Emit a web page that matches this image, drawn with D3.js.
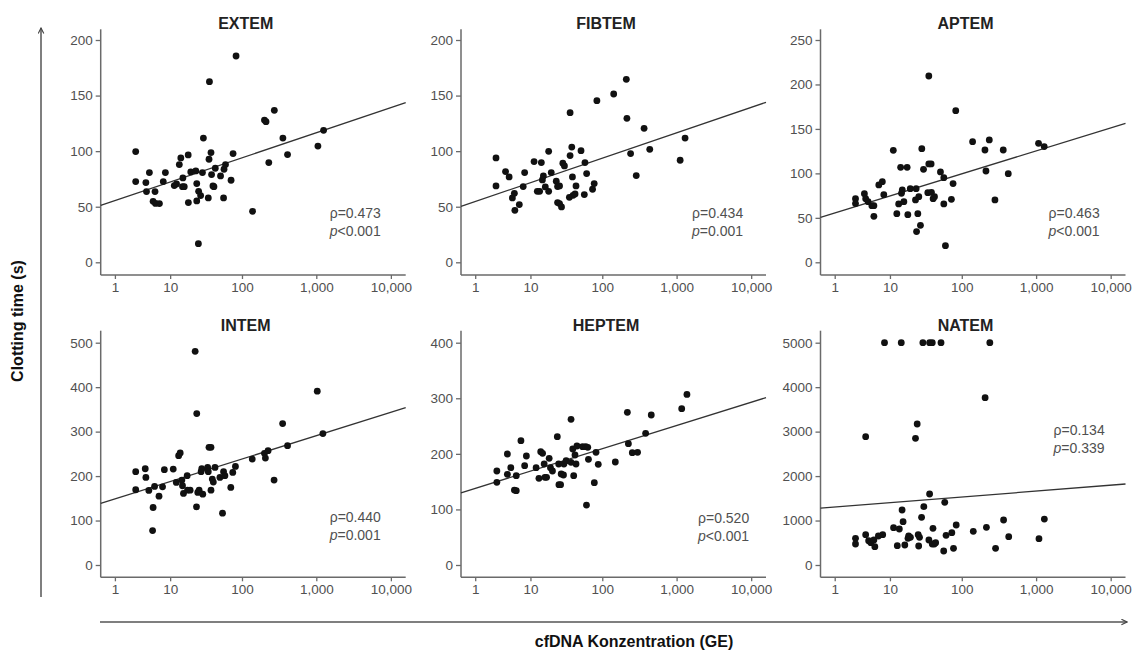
<!DOCTYPE html>
<html>
<head>
<meta charset="utf-8">
<script src="https://cdn.jsdelivr.net/npm/d3@7/dist/d3.min.js"></script>
<style>
	body { margin: 0; background: #fff; }
	svg { display: block; font-family: "Liberation Sans", Arial, sans-serif; }
</style>
</head>
<body>
<svg id="chart" width="1132" height="653"></svg>
<script>
// panels, left to right, top to bottom
const panelNames = ['EXTEM', 'FIBTEM', 'APTEM', 'INTEM', 'HEPTEM', 'NATEM'];
const xTicks = [1, 10, 100, 1000, 10000];
const yTickSets = [
	[0, 50, 100, 150, 200],
	[0, 50, 100, 150, 200],
	[0, 50, 100, 150, 200, 250],
	[0, 100, 200, 300, 400, 500],
	[0, 100, 200, 300, 400],
	[0, 1000, 2000, 3000, 4000, 5000]
];
const rhoValues = ['0.473', '0.434', '0.463', '0.440', '0.520', '0.134'];
const pValues = ['<0.001', '=0.001', '<0.001', '=0.001', '<0.001', '=0.339'];
// fit: clotting time = intercept + slope * log10(cfDNA + 1)
const fitIntercepts = [48.7, 47.8, 47.8, 132.7, 125.2, 1263];
const fitSlopes = [22.6, 22.9, 25.8, 52.7, 41.9, 133];

// [cfDNA (GE), clotting time (s)]
const extemPoints = [
	[2.8,99.6],[2.8,72.6],[4.2,71.7],[4.3,63.6],[4.8,80.7],[5.5,54.9],[5.9,63.6],[6.0,53],[6.9,52.8],
	[7.9,72.6],[8.5,80.7],[11.5,69],[12.4,70.5],[13.6,87.9],[14.3,93.9],[15.1,68],[16,68],[15.3,75.9],
	[18.2,96.6],[18.3,53.7],[19.8,81.3],[23.3,82.2],[24,70.8],[24,55.2],[25.3,16.8],[25.5,63.9],[27.2,60],
	[28.8,80.7],[29.7,111.8],[34.7,57.9],[35.5,92.7],[36,162.5],[37.8,98.7],[38.5,78.9],[40.2,68.7],[41.5,68],
	[43.3,84.6],[51.1,77.7],[56.2,57.9],[57,83.7],[59.7,87.9],[71.1,73.8],[75.7,97.8],[83.1,185.6],[139,45.9],
	[201,128],[211,126.5],[230,89.7],[273,136.7],[356,111.8],[411,96.9],[1051,104.6],[1252,118.7]
];
const fibtemPoints = [
	[2.8,93.9],[2.8,68.7],[4.1,81.6],[4.7,76.8],[5.3,57.9],[5.7,62.1],[5.8,46.8],[6.8,51.9],[7.8,68.1],
	[8.2,80.7],[11.3,90.6],[12.6,63.9],[13.6,63.9],[14.4,89.7],[14.9,74.1],[15.4,77.7],[16.4,67.8],[18.3,99.8],
	[18.3,63.9],[19.9,80.7],[23.4,72.9],[24.4,68.1],[24.4,53.7],[26,68.7],[26,52.8],[27.7,49.8],[28.9,89.1],
	[30.4,86.7],[35.6,58.5],[36.4,134.6],[36.4,96],[38.4,103.7],[39.2,76.8],[40,60.3],[42.6,61.5],[43.9,68.7],
	[51.4,100.4],[57,60.9],[58.2,89.7],[61.3,79.8],[73.8,65.7],[77.7,70.8],[84.5,145.4],[142.6,151.4],[211,164.6],
	[215,129.5],[241,97.8],[287,78],[366,120.5],[436,101.6],[1116,91.8],[1299,111.8]
];
const aptemPoints = [
	[2.8,71.6],[2.8,66],[4.0,77.2],[4.2,71.6],[4.6,68.2],[5.3,63.7],[5.7,63.7],[5.7,51.7],[6.8,87],
	[7.7,90.7],[8.1,76.1],[11.2,125.9],[12.6,54.7],[13.4,65.6],[14.3,106.8],[14.7,77.6],[15.1,81.3],[15.9,68.2],
	[17.7,106.8],[18.1,53.6],[19.6,82.8],[23.7,82.8],[23.2,70.1],[24,34.5],[25,54.7],[25.8,73.8],[27.2,41.6],
	[28.4,127.8],[30,104.6],[34.4,78.3],[35.5,209.5],[35.5,110.6],[38.2,110.6],[38.6,78.7],[40.7,71.6],[42.5,73.8],
	[51.3,101.6],[57,95.2],[57,65.6],[60,18.7],[72.3,70.8],[76.2,88.5],[82.8,170.5],[140,135.7],[205.5,126.3],
	[212,102.7],[235,137.6],[280,70.1],[362,126.3],[423,99.7],[1078,133.8],[1284,130.1]
];
const intemPoints = [
	[2.8,209.8],[2.8,169.2],[4.1,216.5],[4.2,197],[4.7,167.7],[5.5,129.3],[5.4,77.4],[5.8,176.7],[6.8,154.9],
	[7.7,175.9],[8.2,214.3],[11.1,215.8],[12.3,185.7],[13.3,245.9],[14,251.9],[14.8,191],[15.1,178.2],[15.6,160.9],
	[17.6,200.8],[17.8,168.4],[19.4,168.4],[22.8,480.5],[23.8,130.8],[24,340.6],[24.8,163.2],[25.9,168.4],[27.6,209.8],
	[28.2,216.5],[29.1,159.4],[34,219.5],[34.7,209.8],[35.5,264.7],[37.8,264.7],[37.8,168.4],[39.4,193.2],[40.7,186.5],
	[42.9,219.5],[50.1,197],[54.4,116.5],[56.2,209.8],[58.6,200.8],[70.5,174.4],[75,208.3],[81.5,221.8],[137.7,238.3],
	[201,251.1],[207,240.6],[225,257.1],[271,191],[353,318],[411,268.4],[1030,391],[1226,295.5]
];
const heptemPoints = [
	[2.9,169.1],[2.9,148.7],[4.4,199.7],[4.4,163.1],[5.0,175.1],[5.7,134.9],[6.1,160.7],[6.1,133.7],[7.2,223.7],
	[8.2,178.7],[8.7,196.1],[12.1,175.1],[13.3,155.9],[14.1,203.9],[15,200.9],[15.8,181.7],[16.2,157.7],[17.1,157.7],
	[18.6,191.9],[19.4,175.1],[20.7,169.1],[24.2,230.9],[25.3,181.7],[25.5,144.5],[26.9,144.5],[27.4,163.7],[29.5,161.9],
	[29.9,181.7],[32.1,187.7],[37.5,262.1],[37.5,184.7],[39.6,208.7],[40.8,160.7],[42.5,197.9],[43.9,181.7],[45.2,214.1],
	[54,212.9],[59.7,212.9],[63.5,211.7],[61,107.9],[64.9,190.1],[78,148.1],[82.2,202.7],[88.2,181.1],[150,185.3],
	[218,274.7],[225,218.3],[254,202.1],[299,202.7],[384,236.9],[457,269.9],[1171,281.3],[1376,307]
];
const natemPoints = [
	[2.8,600],[2.8,472],[4.2,2886],[4.2,682],[4.7,547],[5.1,502],[5.7,562],[5.9,412],[6.7,652],
	[7.8,682],[8.3,5000],[11.3,840],[12.8,435],[13.7,810],[14.6,5000],[15,1237],[15.5,975],[16.4,450],
	[18.2,600],[18.6,652],[19.7,622],[23.2,2849],[24.5,3171],[25.3,682],[25.7,427],[26.4,622],[28.2,1072],
	[29.4,5000],[30.3,1312],[35.6,562],[36.4,1597],[36.4,5000],[39.6,5000],[39.6,472],[40.5,825],[42.3,472],
	[44.1,502],[52.2,5000],[56.8,315],[58.7,1409],[61.2,667],[73.3,727],[77.2,375],[84,900],[143,757],
	[206.5,3763],[215,847],[239,5000],[285.5,375],[366,1012],[429,637],[1093,592],[1290,1034]
];
const panelPoints = [extemPoints, fibtemPoints, aptemPoints, intemPoints, heptemPoints, natemPoints];

// layout
const colLeft = [100.7, 461, 820.5];
const rows = [
	{ top: 29.3, topTick: 40, zero: 262.3, bottom: 275 },
	{ top: 330.7, topTick: 342.7, zero: 565, bottom: 577.3 }
];
const plotWidth = 305;
const xDomain = [0.29, 15800];
const statOffsets = [[229, -57], [231, -57], [228, -57], [229, -55], [237, -54], [233, -142]];

const axisColor = '#6a6a6a';
const labelColor = '#505050';

const svg = d3.select('#chart');

svg.append('rect').attr('width', 1132).attr('height', 653).attr('fill', '#fff');

function drawPanel(index) {
	const left = colLeft[index % 3];
	const row = rows[Math.floor(index / 3)];
	const yTicks = yTickSets[index];

	const x = d3.scaleSymlog().constant(1)
	.domain(xDomain)
	.range([left, left + plotWidth]);

	const y = d3.scaleLinear()
	.domain([0, yTicks[yTicks.length - 1]])
	.range([row.zero, row.topTick]);

	const g = svg.append('g').attr('class', 'panel');

	// y axis
	const yAxis = g.append('g')
	.attr('transform', `translate(${left},0)`)
	.call(d3.axisLeft(y).tickValues(yTicks).tickSize(5).tickPadding(3).tickFormat(d3.format('d')));
	yAxis.select('.domain').remove();

	// x axis
	const xAxis = g.append('g')
	.attr('transform', `translate(0,${row.bottom})`)
	.call(d3.axisBottom(x).tickValues(xTicks).tickSize(4).tickPadding(3).tickSizeOuter(0).tickFormat(d3.format(',')));
	xAxis.select('.domain').remove();

	[yAxis, xAxis].forEach((axis)=>{
		axis.selectAll('.tick line').attr('stroke', axisColor).attr('stroke-width', 1.3);
		axis.selectAll('.tick text')
		.attr('fill', labelColor)
		.style('font-size', '13.5px')
		.style('font-family', '"Liberation Sans", Arial, sans-serif');
	});

	// axis lines
	g.append('line')
	.attr('x1', left).attr('x2', left)
	.attr('y1', row.top).attr('y2', row.bottom)
	.attr('stroke', axisColor).attr('stroke-width', 1.5);
	g.append('line')
	.attr('x1', left).attr('x2', left + plotWidth)
	.attr('y1', row.bottom).attr('y2', row.bottom)
	.attr('stroke', axisColor).attr('stroke-width', 1.5);

	// fit line
	const fit = (xv)=>fitIntercepts[index] + fitSlopes[index] * Math.log10(xv + 1);
	g.append('path')
	.datum(xDomain)
	.attr('d', d3.line().x((d)=>x(d)).y((d)=>y(fit(d))))
	.attr('fill', 'none')
	.attr('stroke', '#333')
	.attr('stroke-width', 1.3);

	// points
	g.selectAll('circle')
	.data(panelPoints[index])
	.enter()
	.append('circle')
	.attr('cx', (d)=>x(d[0]))
	.attr('cy', (d)=>y(d[1]))
	.attr('r', 3.4)
	.attr('fill', '#111');

	// title
	g.append('text')
	.attr('x', left + 145)
	.attr('y', row.top)
	.attr('text-anchor', 'middle')
	.attr('fill', '#222')
	.style('font-size', '16px')
	.style('font-weight', 'bold')
	.text(panelNames[index]);

	// statistics
	const statX = left + statOffsets[index][0];
	const statY = row.bottom + statOffsets[index][1];
	const stats = g.append('text')
	.attr('fill', labelColor)
	.style('font-size', '14px');
	stats.append('tspan')
	.attr('x', statX).attr('y', statY)
	.text(`\u03C1=${rhoValues[index]}`);
	const pLine = stats.append('tspan')
	.attr('x', statX).attr('y', statY + 18);
	pLine.append('tspan').style('font-style', 'italic').text('p');
	pLine.append('tspan').text(pValues[index]);
}

panelNames.forEach((name, index)=>drawPanel(index));

// outer axis arrows
const defs = svg.append('defs');
defs.append('marker')
.attr('id', 'arrow')
.attr('viewBox', '0 0 10 10')
.attr('refX', 9).attr('refY', 5)
.attr('markerWidth', 7).attr('markerHeight', 7)
.attr('markerUnits', 'userSpaceOnUse')
.attr('orient', 'auto')
.append('path')
.attr('d', 'M1,1 L9,5 L1,9')
.attr('fill', 'none')
.attr('stroke', '#444')
.attr('stroke-width', 1.6);

svg.append('line')
.attr('x1', 41).attr('x2', 41)
.attr('y1', 597).attr('y2', 28)
.attr('stroke', '#555').attr('stroke-width', 1.5)
.attr('marker-end', 'url(#arrow)');

svg.append('line')
.attr('x1', 100).attr('x2', 1127)
.attr('y1', 622).attr('y2', 622)
.attr('stroke', '#555').attr('stroke-width', 1.5)
.attr('marker-end', 'url(#arrow)');

svg.append('text')
.attr('transform', 'translate(23,321) rotate(-90)')
.attr('text-anchor', 'middle')
.attr('fill', '#111')
.style('font-size', '16px')
.style('font-weight', 'bold')
.text('Clotting time (s)');

svg.append('text')
.attr('x', 634).attr('y', 647)
.attr('text-anchor', 'middle')
.attr('fill', '#111')
.style('font-size', '16px')
.style('font-weight', 'bold')
.text('cfDNA Konzentration (GE)');
</script>
</body>
</html>
